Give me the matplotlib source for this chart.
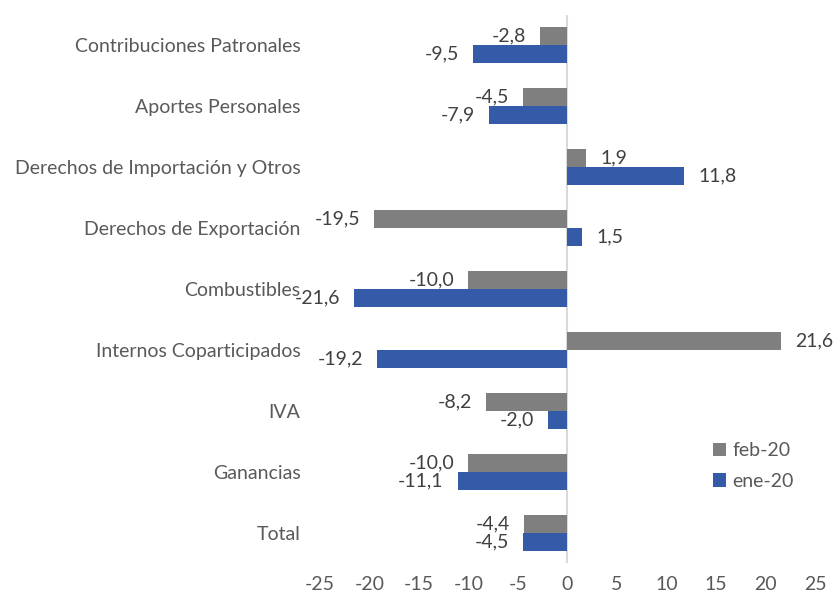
import numpy as np
import matplotlib
matplotlib.use("Agg")
import matplotlib.pyplot as plt

# Data (top to bottom as shown)
categorias = ["Contribuciones Patronales", "Aportes Personales",
              "Derechos de Importación y Otros", "Derechos de Exportación",
              "Combustibles", "Internos Coparticipados", "IVA", "Ganancias", "Total"]
feb20 = [-2.8, -4.5, 1.9, -19.5, -10.0, 21.6, -8.2, -10.0, -4.4]
ene20 = [-9.5, -7.9, 11.8, 1.5, -21.6, -19.2, -2.0, -11.1, -4.5]
xticks = [-25, -20, -15, -10, -5, 0, 5, 10, 15, 20, 25]

gris = "#7f7f7f"
azul = "#345aa8"
texto = "#404040"
texto_cat = "#595959"
fs = 14

plt.rcParams["font.family"] = ["Lato", "DejaVu Sans"]

fig = plt.figure(figsize=(8.34, 5.98), dpi=100)
ax = fig.add_axes([0.3837, 0.0577, 0.5935, 0.918])

y = np.arange(len(categorias))
h = 0.295
b1 = ax.barh(y - h / 2, feb20, height=h, color=gris, label="feb-20")
b2 = ax.barh(y + h / 2, ene20, height=h, color=azul, label="ene-20")

# Data labels, Excel style (outside end)
for bars, vals in [(b1, feb20), (b2, ene20)]:
    for rect, v in zip(bars, vals):
        yc = rect.get_y() + rect.get_height() / 2
        off = 10 if v >= 0 else -10
        ax.annotate(f"{v:.1f}".replace(".", ","), (v, yc),
                    xytext=(off, 0), textcoords="offset points",
                    ha="left" if v >= 0 else "right", va="center",
                    fontsize=fs, color=texto)

ax.set_xlim(-25, 25)
ax.set_ylim(len(categorias) - 0.5, -0.5)
ax.set_xticks(xticks)
ax.set_xticklabels([str(t) for t in xticks])
ax.set_yticks(y)
ax.set_yticklabels(categorias)
ax.tick_params(axis="x", length=0, pad=9, labelsize=fs, labelcolor=texto_cat)
ax.tick_params(axis="y", length=0, pad=14, labelsize=fs, labelcolor=texto_cat)

for s in ax.spines.values():
    s.set_visible(False)
ax.axvline(0, color="#d9d9d9", linewidth=1.5, zorder=0)

leg = ax.legend(loc="center left", bbox_to_anchor=(703 / 834, 1 - 466 / 598),
                bbox_transform=fig.transFigure, frameon=False, borderpad=0,
                handlelength=0.7, handleheight=0.7, handletextpad=0.3,
                labelspacing=0.7, fontsize=fs, labelcolor=texto_cat)

fig.savefig("out.png", dpi=100)
